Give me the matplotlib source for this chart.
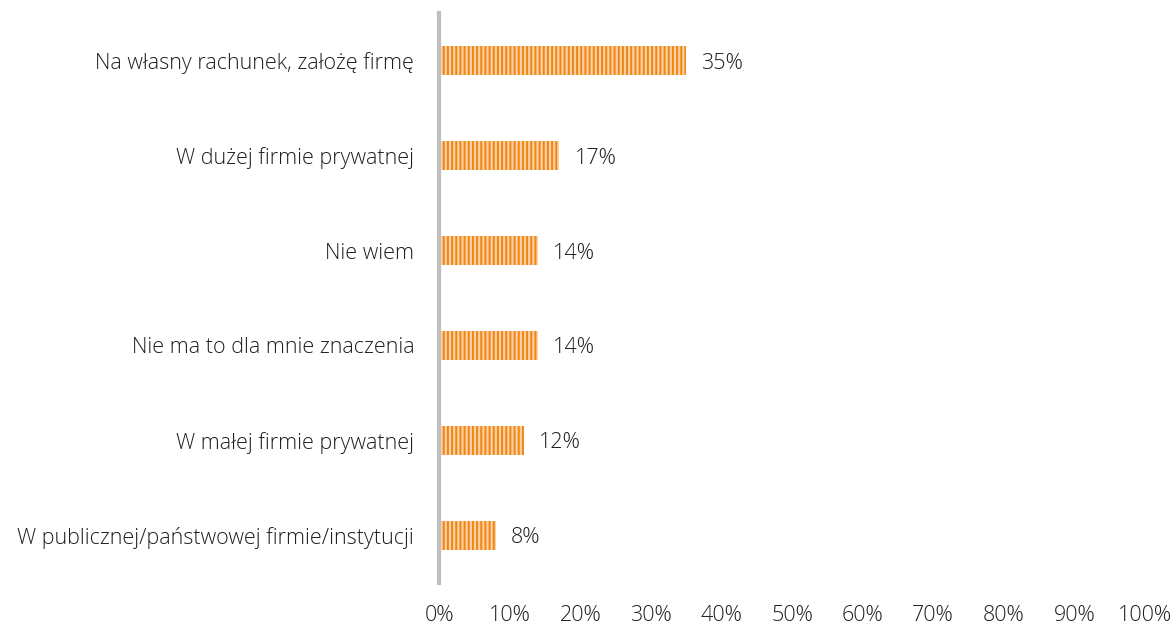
import matplotlib.pyplot as plt
import numpy as np

# data
categories = [
    'Na własny rachunek, założę firmę',
    'W dużej firmie prywatnej',
    'Nie wiem',
    'Nie ma to dla mnie znaczenia',
    'W małej firmie prywatnej',
    'W publicznej/państwowej firmie/instytucji',
]
values = [35, 17, 14, 14, 12, 8]
ticks = list(range(0, 101, 10))

plt.rcParams['font.family'] = ['Open Sans', 'DejaVu Sans']
plt.rcParams['hatch.linewidth'] = 1.4

fig = plt.figure(figsize=(11.76, 6.26), dpi=100)
ax = fig.add_axes([0.3735, 0.069, 0.6, 0.91])

txt = dict(fontsize=15.5, color='#1f1f1f', fontweight='light')

y = np.arange(len(categories))
ax.barh(y, values, height=0.31, color='#fcd0a6', edgecolor='#f0860f',
        linewidth=0, hatch='||||')

for yi, v in zip(y, values):
    ax.annotate(f'{v}%', (v, yi), xytext=(11, 0), textcoords='offset points',
                va='center_baseline', ha='left', **txt)

ax.set_ylim(len(categories) - 0.5, -0.5)
ax.set_xlim(0, 100)
ax.set_yticks(y)
ax.set_yticklabels(categories, **txt)
ax.set_xticks(ticks)
ax.set_xticklabels([f'{t}%' for t in ticks], **txt)
ax.tick_params(axis='both', length=0)
ax.tick_params(axis='y', pad=18)
ax.tick_params(axis='x', pad=16)

for s in ['top', 'right', 'bottom']:
    ax.spines[s].set_visible(False)
ax.spines['left'].set_color('#bfbfbf')
ax.spines['left'].set_linewidth(3)

fig.savefig('out.png', dpi=100)
